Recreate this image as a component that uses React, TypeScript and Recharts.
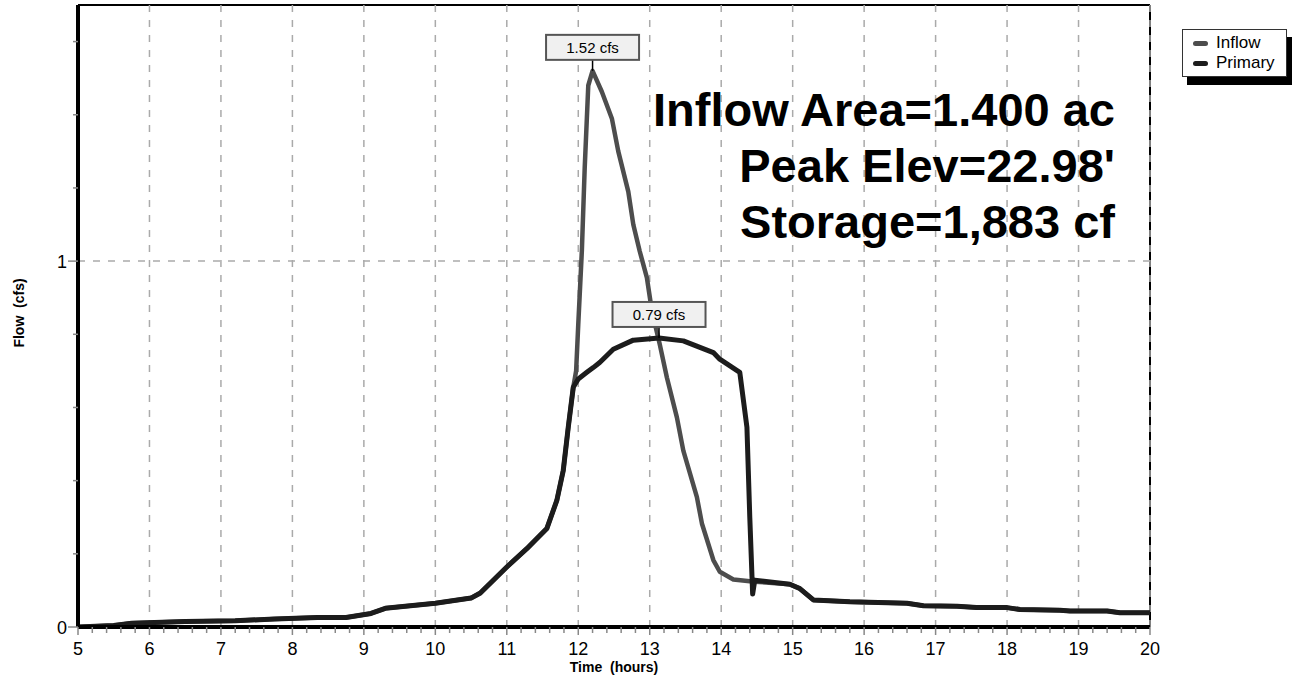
import React from 'react';
import { LineChart, Line, XAxis, YAxis, ReferenceLine, ReferenceDot, Label } from 'recharts';

// ---- data (hours, cfs) ----
const inflowHours = [5.0, 5.5, 5.75, 6.5, 7.2, 7.75, 8.35, 8.75, 9.1, 9.3, 10.0, 10.5, 10.63, 11.0, 11.28, 11.56, 11.7, 11.79, 11.86, 11.93, 11.97, 12.0, 12.05, 12.09, 12.14, 12.2, 12.33, 12.47, 12.56, 12.7, 12.77, 12.86, 12.96, 13.03, 13.14, 13.24, 13.38, 13.47, 13.66, 13.73, 13.89, 13.98, 14.17, 14.4, 14.47, 14.96, 15.1, 15.29, 15.8, 16.6, 16.83, 17.3, 17.57, 18.0, 18.18, 18.74, 18.88, 19.4, 19.58, 20.0];
const inflowCfs = [0.0, 0.004, 0.01, 0.015, 0.017, 0.022, 0.026, 0.026, 0.037, 0.051, 0.065, 0.079, 0.093, 0.164, 0.214, 0.269, 0.346, 0.428, 0.546, 0.655, 0.7, 0.827, 1.027, 1.254, 1.48, 1.52, 1.463, 1.39, 1.3, 1.19, 1.1, 1.027, 0.955, 0.864, 0.773, 0.682, 0.573, 0.482, 0.355, 0.283, 0.183, 0.151, 0.13, 0.125, 0.124, 0.117, 0.105, 0.074, 0.069, 0.065, 0.058, 0.057, 0.053, 0.053, 0.048, 0.046, 0.044, 0.044, 0.039, 0.039];

const primaryHours = [5.0, 5.5, 5.75, 6.5, 7.2, 7.75, 8.35, 8.75, 9.1, 9.3, 10.0, 10.5, 10.63, 11.0, 11.28, 11.56, 11.7, 11.79, 11.86, 11.93, 12.0, 12.12, 12.21, 12.3, 12.49, 12.77, 13.13, 13.47, 13.89, 13.98, 14.26, 14.36, 14.4, 14.44, 14.47, 14.96, 15.1, 15.29, 15.8, 16.6, 16.83, 17.3, 17.57, 18.0, 18.18, 18.74, 18.88, 19.4, 19.58, 20.0];
const primaryCfs = [0.0, 0.004, 0.01, 0.015, 0.017, 0.022, 0.026, 0.026, 0.037, 0.051, 0.065, 0.079, 0.093, 0.164, 0.214, 0.269, 0.346, 0.428, 0.546, 0.655, 0.678, 0.696, 0.709, 0.723, 0.759, 0.784, 0.79, 0.782, 0.75, 0.732, 0.696, 0.546, 0.3, 0.09, 0.128, 0.117, 0.105, 0.074, 0.069, 0.065, 0.058, 0.057, 0.053, 0.053, 0.048, 0.046, 0.044, 0.044, 0.039, 0.039];

const hourTicks = [5, 6, 7, 8, 9, 10, 11, 12, 13, 14, 15, 16, 17, 18, 19, 20];
const flowTicks = [0, 0.2, 0.4, 0.6, 0.8, 1, 1.2, 1.4, 1.6];
const flowLabels = [0, 1];
const peakInflow = { t: 12.2, v: 1.52, label: '1.52 cfs' };
const peakPrimary = { t: 13.13, v: 0.79, label: '0.79 cfs' };
const infoLines = ['Inflow Area=1.400 ac', "Peak Elev=22.98'", 'Storage=1,883 cf'];
const seriesNames = ['Inflow', 'Primary'];

const Y_MAX = 1.7;
const FONT = '"Liberation Sans", Arial, Helvetica, sans-serif';
const INFLOW_COLOR = '#4d4d4d';
const PRIMARY_COLOR = '#1c1c1c';
const GRID = '#aaaaaa';

const inflowData = inflowHours.map((t, i) => ({ t, v: inflowCfs[i] }));
const primaryData = primaryHours.map((t, i) => ({ t, v: primaryCfs[i] }));

// minor ticks every 0.2 hour
const xAllTicks: number[] = [];
hourTicks.slice(0, -1).forEach((h) => {
  for (let k = 0; k < 5; k++) xAllTicks.push(Math.round((h + k * 0.2) * 10) / 10);
});
xAllTicks.push(hourTicks[hourTicks.length - 1]);

const XTick = (props: any) => {
  const { x, y, payload } = props;
  const val = payload.value;
  const major = Math.abs(val - Math.round(val)) < 1e-6;
  return (
    <g>
      <line x1={x} x2={x} y1={y} y2={y + (major ? 8 : 6)} stroke="#888" strokeWidth={1.5} />
      {major && (
        <text x={x} y={y + 28} textAnchor="middle" fontSize={18} fontFamily={FONT} fill="#000">
          {val}
        </text>
      )}
    </g>
  );
};

const YTick = (props: any) => {
  const { x, y, payload } = props;
  const val = payload.value;
  const labeled = flowLabels.some((l) => Math.abs(l - val) < 1e-6);
  return (
    <g>
      <line x1={x - (labeled ? 10 : 5)} x2={x} y1={y} y2={y} stroke="#888" strokeWidth={1.5} />
      {labeled && (
        <text x={x - 11} y={y + 6.5} textAnchor="end" fontSize={18} fontFamily={FONT} fill="#000">
          {val}
        </text>
      )}
    </g>
  );
};

const PeakLabel = (text: string) => (props: any) => {
  const { cx, cy } = props;
  const w = 93;
  const h = 25;
  const gap = 11;
  return (
    <g>
      <line x1={cx} x2={cx} y1={cy} y2={cy - gap} stroke="#000" strokeWidth={1.5} />
      <rect x={cx - w / 2} y={cy - gap - h} width={w} height={h} fill="#f0f0f0" stroke="#555" strokeWidth={2} />
      <text x={cx} y={cy - gap - h / 2 + 5.5} textAnchor="middle" fontSize={15} fontFamily={FONT} fill="#000">
        {text}
      </text>
    </g>
  );
};

const LegendBox = () => (
  <div
    style={{
      position: 'absolute',
      left: 1182,
      top: 29,
      border: '1px solid #333',
      background: '#fff',
      boxShadow: '5px 8px 0 0 #000',
      padding: '3px 4px 3px 10px',
      fontFamily: FONT,
      fontSize: 17,
      lineHeight: '20px',
      color: '#000',
      width: 89,
    }}
  >
    {seriesNames.map((n, i) => (
      <div key={n} style={{ display: 'flex', alignItems: 'center' }}>
        <span
          style={{
            display: 'inline-block',
            width: 15,
            height: 5,
            borderRadius: 3,
            background: i === 0 ? INFLOW_COLOR : PRIMARY_COLOR,
            marginRight: 8,
          }}
        />
        <span>{n}</span>
      </div>
    ))}
  </div>
);

export default function App() {
  return (
    <div style={{ position: 'absolute', left: 0, top: 0, width: 1294, height: 686, background: '#fff', fontFamily: FONT }}>
      <LineChart width={1294} height={686} margin={{ top: 5, right: 144, bottom: 0, left: 0 }}>
        <XAxis
          type="number"
          dataKey="t"
          domain={[5, 20]}
          ticks={xAllTicks}
          interval={0}
          tickSize={0}
          tickMargin={0}
          tick={<XTick />}
          height={59}
          axisLine={{ stroke: '#000', strokeWidth: 4 }}
          allowDataOverflow
        >
          <Label
            content={(p: any) => {
              const vb = p.viewBox;
              return (
                <text x={vb.x + vb.width / 2} y={vb.y + 45} textAnchor="middle" fontSize={14} fontWeight="bold" fontFamily={FONT} fill="#000" style={{ whiteSpace: 'pre' }}>
                  Time  (hours)
                </text>
              );
            }}
          />
        </XAxis>
        <YAxis
          type="number"
          domain={[0, Y_MAX]}
          ticks={flowTicks}
          interval={0}
          tickSize={0}
          tickMargin={0}
          tick={<YTick />}
          width={78}
          axisLine={{ stroke: '#000', strokeWidth: 4 }}
          allowDataOverflow
        >
          <Label
            content={(p: any) => {
              const vb = p.viewBox;
              const cx = 19;
              const cy = vb.y + vb.height / 2 - 3;
              return (
                <text x={cx} y={cy} transform={`rotate(-90 ${cx} ${cy})`} textAnchor="middle" dominantBaseline="central" fontSize={14} fontWeight="bold" fontFamily={FONT} fill="#000" style={{ whiteSpace: 'pre' }}>
                  Flow  (cfs)
                </text>
              );
            }}
          />
        </YAxis>
        <ReferenceLine y={Y_MAX} stroke="#000" strokeWidth={2} />
        <ReferenceLine x={20} stroke="#000" strokeWidth={2} />
        {hourTicks.map((h) => (
          <ReferenceLine key={'gx' + h} x={h} stroke={GRID} strokeWidth={1.5} strokeDasharray="7 8" />
        ))}
        <ReferenceLine y={1} stroke={GRID} strokeWidth={1.5} strokeDasharray="7 8" />
        <ReferenceLine y={0} stroke={GRID} strokeWidth={1.5} strokeDasharray="7 8" />
        <Line
          data={inflowData}
          dataKey="v"
          name={seriesNames[0]}
          type="linear"
          stroke={INFLOW_COLOR}
          strokeWidth={4.5}
          dot={false}
          activeDot={false}
          strokeLinejoin="round"
          strokeLinecap="round"
          isAnimationActive={false}
        />
        <Line
          data={primaryData}
          dataKey="v"
          name={seriesNames[1]}
          type="linear"
          stroke={PRIMARY_COLOR}
          strokeWidth={5}
          dot={false}
          activeDot={false}
          strokeLinejoin="round"
          strokeLinecap="round"
          isAnimationActive={false}
        />
        <ReferenceDot x={peakInflow.t} y={peakInflow.v} shape={PeakLabel(peakInflow.label)} />
        <ReferenceDot x={peakPrimary.t} y={peakPrimary.v} shape={PeakLabel(peakPrimary.label)} />
      </LineChart>
      <LegendBox />
      <div
        style={{
          position: 'absolute',
          right: 1294 - 1115,
          top: 82,
          textAlign: 'right',
          fontFamily: FONT,
          fontWeight: 'bold',
          fontSize: 47,
          lineHeight: '56px',
          color: '#000',
          whiteSpace: 'nowrap',
        }}
      >
        {infoLines.map((l) => (
          <div key={l}>{l}</div>
        ))}
      </div>
    </div>
  );
}
